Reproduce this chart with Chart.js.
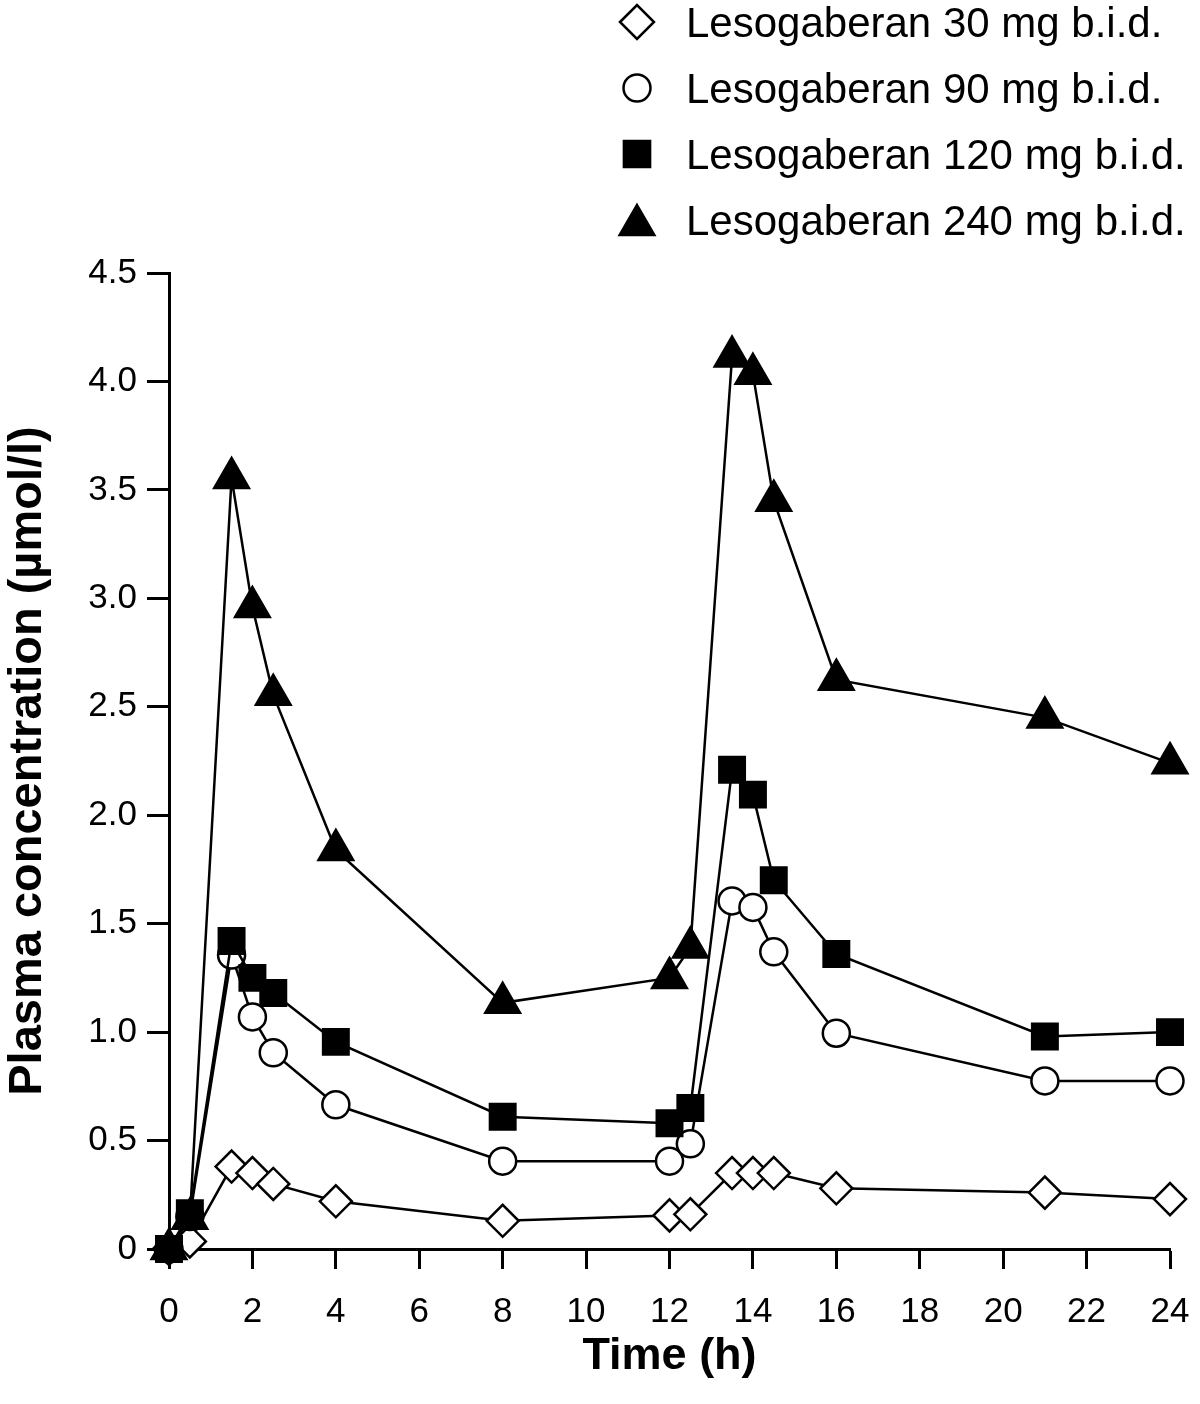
<!DOCTYPE html>
<html>
<head>
<meta charset="utf-8">
<script src="https://cdn.jsdelivr.net/npm/chart.js@4.4.1/dist/chart.umd.min.js"></script>
<style>
  html, body { margin: 0; padding: 0; background: #fff; }
  #wrap { width: 1200px; height: 1404px; }
</style>
</head>
<body>
<div id="wrap"><canvas id="chart-pk" width="1200" height="1404"></canvas></div>
<script>
const timesH = [0, 0.5, 1.5, 2, 2.5, 4, 8, 12, 12.5, 13.5, 14, 14.5, 16, 21, 24];
const dose30 = [0, 0.035, 0.38, 0.35, 0.30, 0.22, 0.13, 0.155, 0.16, 0.35, 0.35, 0.35, 0.28, 0.26, 0.23];
const dose90 = [0, 0.15, 1.355, 1.07, 0.905, 0.665, 0.405, 0.405, 0.485, 1.605, 1.575, 1.37, 0.995, 0.775, 0.775];
const dose120 = [0, 0.165, 1.42, 1.25, 1.18, 0.955, 0.61, 0.58, 0.65, 2.21, 2.095, 1.70, 1.36, 0.98, 1.0];
const dose240 = [0, 0.14, 3.555, 2.96, 2.555, 1.84, 1.135, 1.25, 1.39, 4.115, 4.035, 3.45, 2.625, 2.45, 2.24];

const seriesLabels = [
  'Lesogaberan 30 mg b.i.d.',
  'Lesogaberan 90 mg b.i.d.',
  'Lesogaberan 120 mg b.i.d.',
  'Lesogaberan 240 mg b.i.d.',
];
const xTickLabels = ['0', '2', '4', '6', '8', '10', '12', '14', '16', '18', '20', '22', '24'];
const yTickLabels = ['0', '0.5', '1.0', '1.5', '2.0', '2.5', '3.0', '3.5', '4.0', '4.5'];

const FONT = '"Liberation Sans", Arial, Helvetica, sans-serif';

const toPoints = vals => timesH.map((t, i) => ({ x: t, y: vals[i] }));

// marker look per series: hollow diamond, hollow circle, filled square, filled triangle
const markers = [
  { style: 'rectRot', radius: 16, fill: '#fff', legendRadius: 17 },
  { style: 'circle', radius: 13.5, fill: '#fff', legendRadius: 13.5 },
  { style: 'rect', radius: 18, fill: '#000', legendRadius: 18.5 },
  { style: 'triangle', radius: 20, fill: '#000', legendRadius: 20 },
];

const datasets = [dose30, dose90, dose120, dose240].map((vals, i) => ({
  label: seriesLabels[i],
  data: toPoints(vals),
  order: 3 - i, // filled markers end up on top
  borderColor: '#000',
  borderWidth: 2.5,
  tension: 0,
  fill: false,
  clip: false,
  pointStyle: markers[i].style,
  pointRadius: markers[i].radius,
  pointBackgroundColor: markers[i].fill,
  pointBorderColor: '#000',
  pointBorderWidth: 2.5,
}));

const sideLegend = {
  id: 'sideLegend',
  afterDraw(chart) {
    const ctx = chart.ctx;
    ctx.save();
    seriesLabels.forEach((label, i) => {
      const cy = 22 + i * 66;
      const m = markers[i];
      ctx.fillStyle = m.fill;
      ctx.strokeStyle = '#000';
      ctx.lineWidth = 2.5;
      const py = m.style === 'triangle' ? cy + m.legendRadius / 4 : cy;
      Chart.helpers.drawPoint(ctx, { pointStyle: m.style, radius: m.legendRadius, rotation: 0, borderWidth: 2.5 }, 637, py);
      ctx.fillStyle = '#000';
      ctx.font = '42px ' + FONT;
      ctx.textBaseline = 'alphabetic';
      ctx.textAlign = 'left';
      ctx.fillText(label, 686, cy + 15);
    });
    ctx.restore();
  },
};

new Chart(document.getElementById('chart-pk'), {
  type: 'line',
  data: { datasets },
  options: {
    responsive: false,
    animation: false,
    devicePixelRatio: 1,
    layout: { padding: { top: 273, right: 30, left: 0, bottom: 0 } },
    plugins: {
      legend: { display: false },
      tooltip: { enabled: false },
    },
    scales: {
      x: {
        type: 'linear',
        min: 0,
        max: 24,
        grid: { drawOnChartArea: false, tickLength: 20, tickWidth: 3, tickColor: '#000' },
        border: { color: '#000', width: 3 },
        ticks: {
          stepSize: 2,
          autoSkip: false,
          maxRotation: 0,
          padding: 22,
          color: '#000',
          font: { size: 35, family: FONT },
          callback: (v, i) => xTickLabels[i],
        },
        title: {
          display: true,
          text: 'Time (h)',
          color: '#000',
          font: { size: 45, weight: 'bold', family: FONT },
          padding: { top: 0, bottom: 20 },
        },
        afterFit: s => {
          s.height = 155;
          s.paddingLeft = 0;
          s.paddingRight = 0;
        },
      },
      y: {
        min: 0,
        max: 4.5,
        grid: { drawOnChartArea: false, tickLength: 22, tickWidth: 3, tickColor: '#000' },
        border: { color: '#000', width: 3 },
        ticks: {
          stepSize: 0.5,
          padding: 10,
          color: '#000',
          font: { size: 35, family: FONT },
          callback: (v, i) => yTickLabels[i],
        },
        title: {
          display: true,
          text: 'Plasma concentration (µmol/l)',
          color: '#000',
          font: { size: 47, weight: 'bold', family: FONT },
          padding: { top: 0, bottom: 0 },
        },
        afterFit: s => { s.width = 169; },
      },
    },
  },
  plugins: [sideLegend],
});
</script>
</body>
</html>
